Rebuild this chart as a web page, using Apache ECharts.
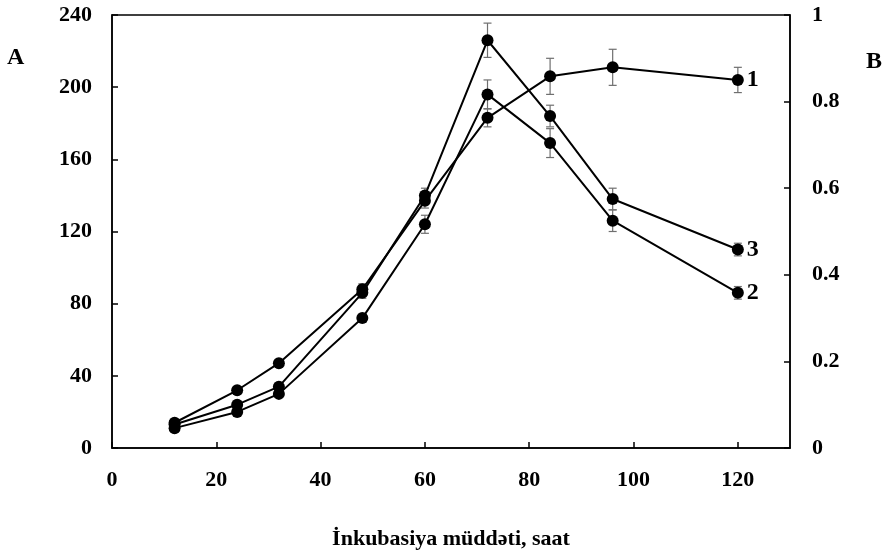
<!DOCTYPE html>
<html>
<head>
<meta charset="utf-8">
<script src="https://cdn.jsdelivr.net/npm/echarts@6/dist/echarts.min.js"></script>
<style>
  html, body { margin: 0; padding: 0; background: #fff; }
  #main { width: 890px; height: 555px; }
</style>
</head>
<body>
<div id="main"></div>
<script>
// incubation time, hours
var hours = [12, 24, 32, 48, 60, 72, 84, 96, 120];
var curve1 = [14, 32, 47, 88, 137, 183, 206, 211, 204];
var curve2 = [11, 20, 30, 72, 124, 196, 169, 126, 86];
var curve3 = [13, 24, 34, 86, 140, 226, 184, 138, 110];
// error bars (+/-)
var err1 = [1, 1, 1, 3, 4, 5, 10, 10, 7];
var err2 = [1, 1, 1, 2, 5, 8, 8, 6, 3.5];
var err3 = [1, 1, 1, 3, 4, 9.5, 6, 6, 3.5];
var leftTicks = { min: 0, max: 240, step: 40 };
var rightTicks = { min: 0, max: 1, step: 0.2 };

var font = 'Liberation Serif';

function pairs(ys) {
    return hours.map(function (h, i) { return [h, ys[i]]; });
}
function errData(ys, es) {
    return hours.map(function (h, i) { return [h, ys[i], es[i]]; });
}

function renderErr(params, api) {
    var x = api.value(0), y = api.value(1), e = api.value(2);
    var hi = api.coord([x, y + e]);
    var lo = api.coord([x, y - e]);
    var w = 4;
    var st = { stroke: '#6f6f6f', lineWidth: 1.2 };
    return {
        type: 'group',
        children: [
            { type: 'line', shape: { x1: hi[0], y1: hi[1], x2: lo[0], y2: lo[1] }, style: st },
            { type: 'line', shape: { x1: hi[0] - w, y1: hi[1], x2: hi[0] + w, y2: hi[1] }, style: st },
            { type: 'line', shape: { x1: lo[0] - w, y1: lo[1], x2: lo[0] + w, y2: lo[1] }, style: st }
        ]
    };
}

function lineSeries(name, ys) {
    return {
        name: name,
        type: 'line',
        yAxisIndex: 0,
        data: pairs(ys),
        symbol: 'circle',
        symbolSize: 12,
        z: 3,
        lineStyle: { color: '#000', width: 2 },
        itemStyle: { color: '#000' },
        endLabel: {
            show: true,
            formatter: name,
            distance: 9,
            color: '#000',
            fontFamily: font,
            fontWeight: 'bold',
            fontSize: 24
        }
    };
}

function errSeries(ys, es) {
    return {
        type: 'custom',
        yAxisIndex: 0,
        data: errData(ys, es),
        renderItem: renderErr,
        z: 2,
        silent: true
    };
}

var labelStyle = { color: '#000', fontFamily: font, fontWeight: 'bold', fontSize: 22 };

var myChart = echarts.init(document.getElementById('main'));
myChart.setOption({
    animation: false,
    grid: {
        left: 112, right: 100, top: 15, bottom: 102,
        show: true, borderColor: '#000', borderWidth: 1.5
    },
    xAxis: {
        type: 'value',
        min: 0, max: 130, interval: 20,
        name: 'İnkubasiya müddəti, saat',
        nameLocation: 'middle',
        nameGap: 80,
        nameTextStyle: { color: '#000', fontFamily: font, fontWeight: 'bold', fontSize: 22 },
        axisLine: { lineStyle: { color: '#000', width: 1.5 } },
        axisTick: { inside: true, length: 6, lineStyle: { color: '#000', width: 1.5 } },
        axisLabel: Object.assign({ margin: 21, showMaxLabel: false }, labelStyle),
        splitLine: { show: false }
    },
    yAxis: [{
        type: 'value',
        position: 'left',
        min: leftTicks.min, max: leftTicks.max, interval: leftTicks.step,
        axisLine: { show: true, lineStyle: { color: '#000', width: 1.5 } },
        axisTick: { show: true, inside: true, length: 6, lineStyle: { color: '#000', width: 1.5 } },
        axisLabel: Object.assign({ margin: 20 }, labelStyle),
        splitLine: { show: false }
    }, {
        type: 'value',
        position: 'right',
        min: rightTicks.min, max: rightTicks.max, interval: rightTicks.step,
        axisLine: { show: true, lineStyle: { color: '#000', width: 1.5 } },
        axisTick: { show: true, inside: true, length: 6, lineStyle: { color: '#000', width: 1.5 } },
        axisLabel: Object.assign({ margin: 22 }, labelStyle),
        splitLine: { show: false }
    }],
    graphic: [
        { type: 'text', left: 7, top: 46, style: { text: 'A', fill: '#000', font: 'bold 24px "Liberation Serif"' } },
        { type: 'text', left: 866, top: 50, style: { text: 'B', fill: '#000', font: 'bold 24px "Liberation Serif"' } }
    ],
    series: [
        errSeries(curve1, err1),
        errSeries(curve2, err2),
        errSeries(curve3, err3),
        lineSeries('1', curve1),
        lineSeries('2', curve2),
        lineSeries('3', curve3)
    ]
});
</script>
</body>
</html>
